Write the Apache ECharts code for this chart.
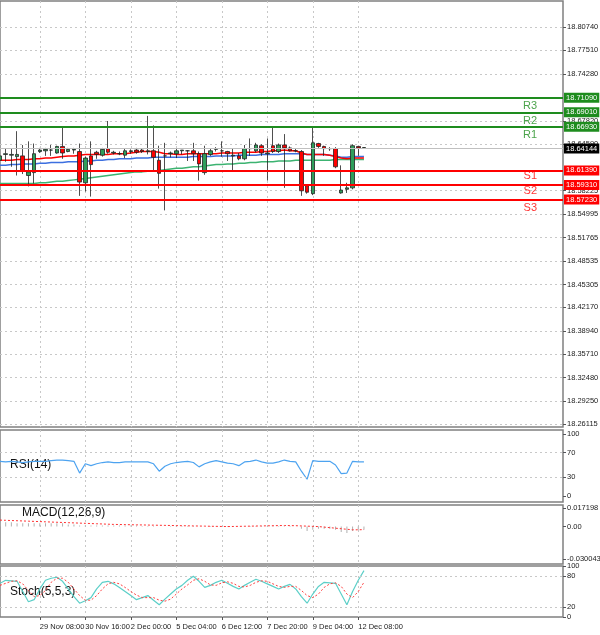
<![CDATA[<!DOCTYPE html>
<html><head><meta charset="utf-8">
<script src="https://cdn.jsdelivr.net/npm/echarts@6/dist/echarts.min.js"></script>
<style>html,body{margin:0;padding:0;background:#fff}#c{width:600px;height:635px}</style>
</head><body><div id="c"></div>
<script>
// OHLC as [open, close, low, high]
const candles = [
[18.624,18.630,18.617,18.642],[18.632,18.633,18.622,18.640],[18.631,18.632,18.615,18.640],[18.629,18.632,18.603,18.664],
[18.630,18.610,18.605,18.645],[18.603,18.608,18.588,18.650],[18.607,18.633,18.592,18.647],[18.636,18.638,18.634,18.641],
[18.637,18.639,18.630,18.641],[18.638,18.638,18.630,18.645],[18.634,18.643,18.633,18.644],[18.643,18.634,18.626,18.670],
[18.636,18.639,18.635,18.641],[18.638,18.639,18.633,18.641],[18.636,18.594,18.575,18.647],[18.593,18.627,18.581,18.629],
[18.630,18.618,18.574,18.650],[18.635,18.632,18.626,18.637],[18.631,18.639,18.629,18.641],[18.640,18.635,18.633,18.678],
[18.634,18.635,18.632,18.637],[18.633,18.633,18.631,18.636],[18.631,18.637,18.627,18.640],[18.636,18.637,18.633,18.639],
[18.638,18.635,18.633,18.641],[18.638,18.636,18.634,18.640],[18.636,18.637,18.632,18.685],[18.637,18.628,18.610,18.672],
[18.624,18.606,18.585,18.644],[18.630,18.630,18.555,18.648],[18.633,18.634,18.628,18.636],[18.633,18.637,18.627,18.640],
[18.637,18.638,18.632,18.638],[18.637,18.637,18.623,18.638],[18.637,18.633,18.623,18.648],[18.633,18.619,18.596,18.636],
[18.607,18.633,18.604,18.644],[18.632,18.637,18.630,18.640],[18.639,18.640,18.636,18.642],[18.637,18.637,18.629,18.650],
[18.636,18.633,18.623,18.637],[18.630,18.631,18.610,18.640],[18.630,18.626,18.624,18.634],[18.626,18.640,18.624,18.645],
[18.640,18.640,18.630,18.654],[18.637,18.645,18.635,18.648],[18.644,18.634,18.630,18.646],[18.633,18.634,18.596,18.654],
[18.644,18.636,18.634,18.669],[18.636,18.645,18.634,18.647],[18.645,18.641,18.586,18.660],[18.641,18.637,18.636,18.643],
[18.637,18.637,18.635,18.640],[18.636,18.582,18.575,18.638],[18.589,18.580,18.578,18.591],[18.578,18.648,18.576,18.670],
[18.647,18.643,18.641,18.648],[18.643,18.640,18.630,18.644],[18.640,18.640,18.637,18.642],[18.640,18.615,18.613,18.642],
[18.579,18.583,18.578,18.617],[18.584,18.586,18.579,18.593],[18.586,18.644,18.584,18.646],[18.643,18.641,18.630,18.644],
[18.641,18.6414,18.6410,18.6416]];
const maFast = [18.624,18.624,18.624,18.625,18.625,18.625,18.626,18.626,18.627,18.627,18.628,18.629,18.630,18.630,18.631,18.632,18.632,18.632,
18.632,18.632,18.633,18.633,18.633,18.634,18.635,18.636,18.636,18.636,18.635,18.633,18.633,18.632,18.632,18.633,18.633,18.633,
18.633,18.633,18.633,18.634,18.634,18.634,18.634,18.635,18.635,18.635,18.636,18.636,18.637,18.637,18.638,18.637,18.637,18.634,
18.632,18.632,18.632,18.632,18.631,18.629,18.627,18.626,18.627,18.627,18.627];
const maMid = [18.617,18.617,18.618,18.618,18.619,18.619,18.619,18.620,18.620,18.621,18.621,18.621,18.622,18.622,18.622,18.623,18.623,18.624,
18.624,18.625,18.625,18.626,18.626,18.626,18.627,18.627,18.627,18.628,18.628,18.628,18.628,18.628,18.628,18.628,18.629,18.629,
18.629,18.629,18.630,18.630,18.630,18.630,18.631,18.631,18.631,18.631,18.632,18.632,18.632,18.632,18.633,18.633,18.633,18.633,
18.632,18.632,18.632,18.632,18.631,18.630,18.628,18.628,18.629,18.629,18.629];
const maSlow = [18.592,18.592,18.592,18.592,18.592,18.592,18.592,18.593,18.593,18.594,18.595,18.595,18.596,18.597,18.598,18.599,
18.600,18.601,18.602,18.603,18.604,18.605,18.606,18.607,18.608,18.608,18.609,18.609,18.610,18.611,18.612,18.613,
18.613,18.614,18.615,18.615,18.616,18.617,18.618,18.618,18.619,18.619,18.620,18.620,18.621,18.621,18.622,18.622,
18.622,18.623,18.623,18.623,18.624,18.624,18.624,18.624,18.624,18.624,18.624,18.625,18.625,18.625,18.625,18.625,18.625];
const levels = [
 {name:'R3', value:18.71090, kind:'R', pos:'insideEndBottom'},
 {name:'R2', value:18.69010, kind:'R', pos:'insideEndBottom'},
 {name:'R1', value:18.66930, kind:'R', pos:'insideEndBottom'},
 {name:'',   value:18.61390, kind:'S', pos:null},
 {name:'S1', value:18.59310, kind:'S', pos:'insideEndTop'},
 {name:'S2', value:18.57230, kind:'S', pos:'insideEndTop'},
 {name:'S3', value:18.57230, kind:'S', pos:'insideEndBottom', noBadge:true}];
const lastPrice = 18.64144;
const priceTicks = [18.80740,18.77510,18.74280,18.67820,18.64590,18.58225,18.54995,18.51765,18.48535,18.45305,18.42170,18.38940,18.35710,18.32480,18.29250,18.26115];
const rsi = [56,55,56,55,54,55,56,56,56,57,58,58,57,56,37,52,49,52,54,55,54,54,55,55,55,55,55,52,40,48,52,54,55,56,54,47,52,55,57,55,
53,52,49,55,56,58,55,53,53,55,58,56,55,40,27,57,56,56,56,50,36,37,56,55,55];
const macdHist = [0.004,0.004,0.004,0.003,0.003,0.003,0.003,0.003,0.003,0.003,0.003,0.003,0.002,0.002,0.001,0.001,0.001,0.001,0.001,0.001,
0.001,0.001,0.001,0.001,0.001,0.0005,0.0005,0.0005,0,0,0.0005,0.0005,0.0005,0.0005,0.0005,0,0,0.0005,0.0005,0.0005,
0.0005,0.0005,0,0.0005,0.0005,0.0005,0.0005,0.0005,0.0005,0.0005,0.0005,0.0005,0,-0.002,-0.004,-0.003,-0.002,-0.002,-0.002,-0.003,
-0.005,-0.006,-0.004,-0.003,-0.003];
const macdSignal = [0.006,0.0058,0.0056,0.0054,0.0052,0.005,0.0048,0.0046,0.0044,0.0042,0.004,0.0038,0.0036,0.0034,0.0032,0.003,0.0028,0.0026,0.0024,0.0022,
0.002,0.0019,0.0018,0.0017,0.0016,0.0015,0.0014,0.0013,0.0012,0.0011,0.001,0.0009,0.0008,0.0007,0.0006,0.0005,0.0004,0.0003,0.0002,0.0001,
0,0.0001,0.0002,0.0003,0.0004,0.0005,0.0006,0.0007,0.0008,0.0009,0.001,0.0009,0.0008,0.0006,0.0004,0.0002,0,-0.0005,-0.001,-0.0015,
-0.002,-0.0025,-0.003,-0.003,-0.0028];
const stochK = [66,72,71,70,50,30,34,55,72,76,78,70,55,40,27,32,38,55,68,70,65,58,50,42,34,38,42,33,24,35,45,55,62,72,80,70,58,62,68,72,
66,60,55,62,68,74,70,65,60,55,60,64,55,40,27,45,60,68,67,66,45,24,50,72,91];
const stochD = [62,66,70,71,65,52,40,42,52,68,76,76,68,55,42,33,33,42,55,65,68,65,58,50,43,38,38,38,33,31,35,45,55,63,72,75,70,63,62,67,
69,66,60,59,62,68,71,70,65,60,58,60,60,52,42,38,45,58,65,67,60,45,38,50,68];
const timeLabels = {7:'29 Nov 08:00',15:'30 Nov 16:00',23:'2 Dec 00:00',31:'5 Dec 04:00',39:'6 Dec 12:00',47:'7 Dec 20:00',55:'9 Dec 04:00',63:'12 Dec 08:00'};
const NCAT = 100;
const cats = Array.from({length:NCAT},(_,i)=>timeLabels[i]||('b'+i));

const F = 'Liberation Sans';
const gridBorder = {show:true,borderColor:'#808080',borderWidth:1.5,outerBoundsMode:'none',containLabel:false};
const grids = [
 {left:0,right:37,top:1,height:426,...gridBorder},
 {left:0,right:37,top:430,height:72,...gridBorder},
 {left:0,right:37,top:505,height:59,...gridBorder},
 {left:0,right:37,top:566,height:51,...gridBorder}];
const isLab = (i)=>timeLabels[i]!==undefined;
const dotted = {show:true,interval:(i)=>isLab(i),lineStyle:{color:'#c8c8c8',type:[2,3],width:1}};
const xAxes = grids.map((g,k)=>({type:'category',gridIndex:k,data:cats,boundaryGap:false,
  axisLine:{show:false},axisTick:{show:k===3,interval:(i)=>isLab(i),length:3,lineStyle:{color:'#555'}},
  splitLine:dotted,
  axisLabel:{show:k===3,interval:0,hideOverlap:false,align:'left',fontSize:7.5,color:'#222',fontFamily:F,margin:6,
    formatter:(v)=>v.startsWith('b')?'':v}}));
const ylab = {fontSize:7.5,color:'#222',fontFamily:F,margin:4,hideOverlap:false};
const ysplit = {show:true,lineStyle:{color:'#c8c8c8',type:[2,3],width:1}};
const yAxes = [
 {type:'value',gridIndex:0,position:'right',min:18.2570,max:18.8431,axisLine:{show:false},
  axisTick:{show:true,customValues:priceTicks,length:3,lineStyle:{color:'#555'}},
  axisLabel:{...ylab,customValues:priceTicks,formatter:(v)=>v.toFixed(5)},splitLine:ysplit},
 {type:'value',gridIndex:1,position:'right',min:-9.7,max:106.5,axisLine:{show:false},
  axisTick:{show:true,customValues:[0,30,70,100],length:3},
  axisLabel:{...ylab,customValues:[0,30,70,100]},splitLine:{show:false}},
 {type:'value',gridIndex:2,position:'right',min:-0.03467,max:0.01998,axisLine:{show:false},
  axisTick:{show:true,customValues:[-0.030043,0,0.017198],length:3},
  axisLabel:{...ylab,customValues:[-0.030043,0,0.017198],formatter:(v)=>v===0?'0.00':String(v)},splitLine:{show:false}},
 {type:'value',gridIndex:3,position:'right',min:0,max:100,axisLine:{show:false},
  axisTick:{show:true,customValues:[0,20,80,100],length:3},
  axisLabel:{...ylab,customValues:[0,20,80,100],lineHeight:8},splitLine:{show:false}}];

const RC='#1e8c1e', SC='#ff0000';
const ml = [];
levels.forEach(l=>{
  const c = l.kind==='R'?RC:SC;
  if(!l.noBadge) ml.push({yAxis:l.value,lineStyle:{color:c,width:2,type:'solid'},
    label:{show:true,position:'end',distance:1,formatter:l.value.toFixed(5),backgroundColor:c,color:'#fff',fontSize:7.5,fontFamily:F,padding:[1,2]}});
  if(l.pos) ml.push({yAxis:l.value,lineStyle:{opacity:0},
    label:{show:true,position:l.pos,distance:[26,3],formatter:l.name,color:c,fontSize:11,fontFamily:F,opacity:0.8}});
});
ml.push({yAxis:lastPrice,lineStyle:{color:'#c0c0c0',width:1,type:'solid'},
  label:{show:true,position:'end',distance:1,formatter:lastPrice.toFixed(5),backgroundColor:'#000',color:'#fff',fontSize:7.5,fontFamily:F,padding:[1,2]}});

const chart = echarts.init(document.getElementById('c'));
chart.setOption({
 animation:false,
 grid:grids, xAxis:xAxes, yAxis:yAxes,
 graphic:[
  {type:'text',left:10,top:459,style:{text:'RSI(14)',font:'12px '+F,fill:'#111'}},
  {type:'text',left:22,top:507,style:{text:'MACD(12,26,9)',font:'12px '+F,fill:'#111'}},
  {type:'text',left:10,top:586,style:{text:'Stoch(5,5,3)',font:'12px '+F,fill:'#111'}}],
 series:[
  {type:'line',xAxisIndex:0,yAxisIndex:0,data:maSlow,symbol:'none',lineStyle:{color:'#3cb371',width:1.5},z:2},
  {type:'line',xAxisIndex:0,yAxisIndex:0,data:maMid,symbol:'none',lineStyle:{color:'#3c6fe0',width:1.5},z:2},
  {type:'line',xAxisIndex:0,yAxisIndex:0,data:maFast,symbol:'none',lineStyle:{color:'#ff0000',width:1.5},z:2},
  {type:'candlestick',xAxisIndex:0,yAxisIndex:0,data:candles,barWidth:4,z:3,
   itemStyle:{color:'#2e9e5b',color0:'#ff0000',borderColor:'#222',borderColor0:'#222',borderWidth:0.8},
   markLine:{silent:true,symbol:'none',animation:false,data:ml}},
  {type:'line',xAxisIndex:1,yAxisIndex:1,data:rsi,symbol:'none',lineStyle:{color:'#4da3f0',width:1.2},
   markLine:{silent:true,symbol:'none',label:{show:false},lineStyle:{color:'#c8c8c8',type:[2,3],width:1},data:[{yAxis:70},{yAxis:30}]}},
  {type:'bar',xAxisIndex:2,yAxisIndex:2,data:macdHist,barWidth:1,itemStyle:{color:'#b0b0b0'}},
  {type:'line',xAxisIndex:2,yAxisIndex:2,data:macdSignal,symbol:'none',lineStyle:{color:'#ff3030',width:1,type:[2,2]}},
  {type:'line',xAxisIndex:3,yAxisIndex:3,data:stochK,symbol:'none',lineStyle:{color:'#5ccfc8',width:1.2},
   markLine:{silent:true,symbol:'none',label:{show:false},lineStyle:{color:'#c8c8c8',type:[2,3],width:1},data:[{yAxis:80},{yAxis:20}]}},
  {type:'line',xAxisIndex:3,yAxisIndex:3,data:stochD,symbol:'none',lineStyle:{color:'#ff4040',width:1,type:[2,2]}}
 ]
});
</script></body></html>]]>
